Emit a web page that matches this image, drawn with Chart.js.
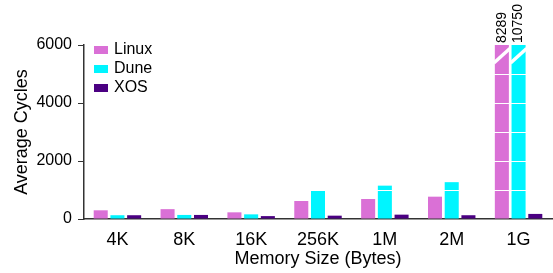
<!DOCTYPE html>
<html>
<head>
<meta charset="utf-8">
<script src="https://cdn.jsdelivr.net/npm/chart.js@4/dist/chart.umd.min.js"></script>
<style>
  html, body { margin: 0; padding: 0; background: #fff; }
  #wrap { width: 553px; height: 273px; }
</style>
</head>
<body>
<div id="wrap"><canvas id="myChart"></canvas></div>
<script>
var sizes = ['4K', '8K', '16K', '256K', '1M', '2M', '1G'];
var linux = [300, 340, 230, 620, 690, 770, 8289];
var dune  = [130, 140, 160, 965, 1150, 1270, 10750];
var xos   = [130, 140, 100, 115, 150, 130, 175];
var yTicks = [0, 2000, 4000, 6000];
var yMax = 6000;

var color1 = '#da70d6';
var color2 = '#00f5ff';
var color3 = '#4b0082';
var axisColor = '#333333';

Chart.defaults.font.family = '"Liberation Sans", Arial, sans-serif';
Chart.defaults.color = '#000';

// white lines every 1000 across the bars
var whiteGrid = {
    id: 'whiteGrid',
    afterDatasetsDraw: function(chart) {
        var ctx = chart.ctx;
        var y = chart.scales.y;
        var a = chart.chartArea;
        ctx.save();
        ctx.strokeStyle = '#ffffff';
        ctx.lineWidth = 1;
        for (var v = 1000; v < yMax; v += 1000) {
            var py = Math.round(y.getPixelForValue(v)) + 0.5;
            ctx.beginPath();
            ctx.moveTo(a.left + 1, py);
            ctx.lineTo(a.right, py);
            ctx.stroke();
        }
        ctx.restore();
    }
};

// break mark and value for bars above the axis
var brokenBars = {
    id: 'brokenBars',
    afterDatasetsDraw: function(chart) {
        var ctx = chart.ctx;
        var y = chart.scales.y;
        ctx.save();
        chart.data.datasets.forEach(function(ds, i) {
            var meta = chart.getDatasetMeta(i);
            ds.data.forEach(function(v, j) {
                if (v <= yMax) return;
                var bar = meta.data[j];
                var l = bar.x - bar.width / 2;
                var r = bar.x + bar.width / 2;
                ctx.strokeStyle = '#ffffff';
                ctx.lineWidth = 3.5;
                ctx.beginPath();
                ctx.moveTo(l - 1, y.getPixelForValue(5380));
                ctx.lineTo(r + 1, y.getPixelForValue(5880));
                ctx.stroke();
                ctx.save();
                ctx.translate(bar.x, chart.chartArea.top - 2);
                ctx.rotate(-Math.PI / 2);
                ctx.fillStyle = '#000';
                ctx.font = '14px "Liberation Sans", Arial, sans-serif';
                ctx.textAlign = 'left';
                ctx.textBaseline = 'middle';
                ctx.fillText(String(v), 0, 0);
                ctx.restore();
            });
        });
        ctx.restore();
    }
};

// legend inside the plot, upper left
var innerLegend = {
    id: 'innerLegend',
    afterDraw: function(chart) {
        var ctx = chart.ctx;
        var x0 = chart.chartArea.left + 10;
        var y0 = chart.chartArea.top + 5;
        ctx.save();
        ctx.font = '16px "Liberation Sans", Arial, sans-serif';
        ctx.textBaseline = 'middle';
        chart.data.datasets.forEach(function(ds, i) {
            var cy = y0 + i * 19;
            ctx.fillStyle = ds.backgroundColor;
            ctx.fillRect(x0, cy - 4, 14, 8);
            ctx.fillStyle = '#000';
            ctx.fillText(ds.label, x0 + 20, cy);
        });
        ctx.restore();
    }
};

var myChart = document.getElementById('myChart').getContext('2d');
var chart = new Chart(myChart, {
    type: 'bar',
    data: {
        labels: sizes,
        datasets: [{
            label: 'Linux',
            data: linux,
            backgroundColor: color1,
            categoryPercentage: 0.75,
            barPercentage: 0.84
        }, {
            label: 'Dune',
            data: dune,
            backgroundColor: color2,
            categoryPercentage: 0.75,
            barPercentage: 0.84
        }, {
            label: 'XOS',
            data: xos,
            backgroundColor: color3,
            categoryPercentage: 0.75,
            barPercentage: 0.84
        }]
    },
    options: {
        responsive: true,
        maintainAspectRatio: false,
        animation: false,
        layout: { padding: { top: 45, right: 1, left: 0, bottom: 0 } },
        plugins: {
            legend: { display: false },
            tooltip: { enabled: false }
        },
        scales: {
            x: {
                grid: { display: false },
                border: { color: axisColor, width: 1.5 },
                ticks: { font: { size: 18 }, padding: 2 },
                title: {
                    display: true,
                    text: 'Memory Size (Bytes)',
                    font: { size: 18 },
                    padding: { top: 0, bottom: 3 }
                },
                afterFit: function(scale) { scale.height = 54; }
            },
            y: {
                min: 0,
                max: yMax,
                afterBuildTicks: function(scale) {
                    scale.ticks = yTicks.map(function(v) { return { value: v }; });
                },
                grid: { drawOnChartArea: false, tickLength: 6, color: axisColor },
                border: { color: axisColor, width: 1.5 },
                ticks: {
                    font: { size: 16 },
                    padding: 6,
                    callback: function(value) { return String(value); }
                },
                title: {
                    display: true,
                    text: 'Average Cycles',
                    font: { size: 18 },
                    padding: { top: 11, bottom: 0 }
                },
                afterFit: function(scale) { scale.width = 84; }
            }
        }
    },
    plugins: [whiteGrid, brokenBars, innerLegend]
});
</script>
</body>
</html>
